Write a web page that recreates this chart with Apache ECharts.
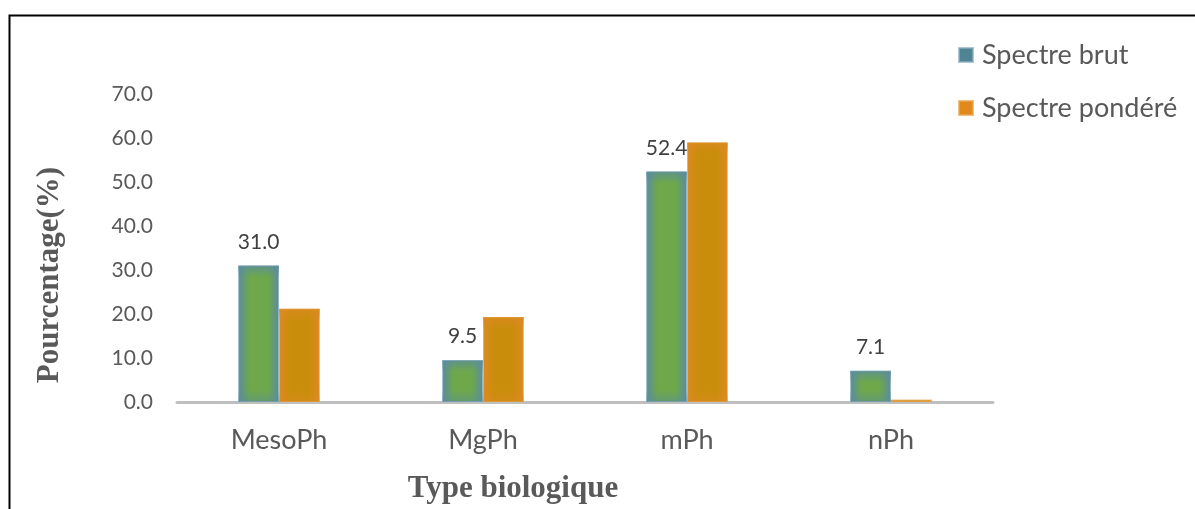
<!DOCTYPE html>
<html>
<head>
<meta charset="utf-8">
<script src="https://cdn.jsdelivr.net/npm/echarts@6/dist/echarts.min.js"></script>
<style>
  html, body { margin: 0; padding: 0; background: #ffffff; }
  #chart { width: 1195px; height: 509px; }
</style>
</head>
<body>
<div id="chart"></div>
<script>
// Biological types and their share in the raw and weighted spectra (%)
const categories = ['MesoPh', 'MgPh', 'mPh', 'nPh'];
const spectreBrut = [31.0, 9.5, 52.4, 7.1];
const spectrePondere = [21.2, 19.3, 59.0, 0.5];
const yTicks = { min: 0, max: 70, interval: 10 };

const seriesNames = ['Spectre brut', 'Spectre pondéré'];
const BAR_FRACTION = 0.2; // each bar takes 20% of a category band

const greenFill = new echarts.graphic.LinearGradient(0, 0, 1, 0, [
  { offset: 0, color: '#5a8c9e' },
  { offset: 0.28, color: '#6ea84a' },
  { offset: 0.72, color: '#6ea84a' },
  { offset: 1, color: '#5a8c9e' }
]);
const orangeFill = new echarts.graphic.LinearGradient(0, 0, 1, 0, [
  { offset: 0, color: '#dc8a22' },
  { offset: 0.28, color: '#c98d0b' },
  { offset: 0.72, color: '#c98d0b' },
  { offset: 1, color: '#dc8a22' }
]);

// Soft top/bottom edge shading laid over each bar
function edgeShade(rgb, side) {
  return function (params, api) {
    const cat = api.value(0);
    const val = api.value(1);
    const top = api.coord([cat, val]);
    const base = api.coord([cat, 0]);
    const band = api.size([1, 0])[0];
    const w = band * BAR_FRACTION;
    const x = side < 0 ? top[0] - w : top[0];
    const h = base[1] - top[1];
    if (h <= 2) return null;
    const f = Math.min(0.5, 12 / h);
    return {
      type: 'rect',
      shape: { x: x, y: top[1], width: w, height: h },
      style: {
        fill: new echarts.graphic.LinearGradient(0, 0, 0, 1, [
          { offset: 0, color: 'rgba(' + rgb + ',0.75)' },
          { offset: f, color: 'rgba(' + rgb + ',0)' },
          { offset: 1 - f, color: 'rgba(' + rgb + ',0)' },
          { offset: 1, color: 'rgba(' + rgb + ',0.5)' }
        ])
      },
      silent: true
    };
  };
}

const chart = echarts.init(document.getElementById('chart'), null, { renderer: 'canvas' });

chart.setOption({
  animation: false,
  backgroundColor: '#ffffff',
  graphic: [{
    type: 'rect',
    left: 7, top: 13,
    shape: { width: 1300, height: 600 },
    style: { fill: 'none', stroke: '#000000', lineWidth: 2 },
    z: 100
  }],
  grid: { left: 177, right: 202, top: 94, bottom: 106 },
  legend: {
    orient: 'vertical',
    left: 958, top: 40,
    padding: 0,
    itemWidth: 14, itemHeight: 14, itemGap: 23,
    icon: 'rect',
    textStyle: { fontFamily: 'Lato', fontSize: 27, color: '#595959', lineHeight: 30, padding: [0, 0, 0, 4] },
    data: [
      { name: seriesNames[0], itemStyle: { color: '#4f8593' } },
      { name: seriesNames[1], itemStyle: { color: '#e0891d' } }
    ]
  },
  xAxis: {
    type: 'category',
    data: categories,
    name: 'Type biologique',
    nameLocation: 'middle',
    nameGap: 71,
    nameTextStyle: {
      fontFamily: 'Liberation Serif', fontWeight: 'bold', fontSize: 31, color: '#595959',
      padding: [0, 144, 0, 0]
    },
    axisLine: { lineStyle: { color: '#bfbfbf', width: 3 } },
    axisTick: { show: false },
    axisLabel: { fontFamily: 'Lato', fontSize: 27, color: '#595959', margin: 25 }
  },
  yAxis: {
    type: 'value',
    min: yTicks.min, max: yTicks.max, interval: yTicks.interval,
    name: 'Pourcentage(%)',
    nameLocation: 'middle',
    nameRotate: 90,
    nameGap: 112,
    nameTextStyle: {
      fontFamily: 'Liberation Serif', fontWeight: 'bold', fontSize: 31, color: '#595959',
      padding: [0, 54, 0, 0]
    },
    axisLine: { show: false },
    axisTick: { show: false },
    splitLine: { show: false },
    axisLabel: {
      fontFamily: 'Lato', fontSize: 21, color: '#595959', margin: 24,
      formatter: v => v.toFixed(1)
    }
  },
  series: [
    {
      name: seriesNames[0],
      type: 'bar',
      data: spectreBrut,
      barWidth: (BAR_FRACTION * 100) + '%',
      barGap: '0%',
      itemStyle: { color: greenFill, borderColor: 'rgba(140,175,195,0.7)', borderWidth: 1 },
      label: {
        show: true, position: 'top', distance: 13,
        fontFamily: 'Lato', fontSize: 21, color: '#404040',
        formatter: p => p.value.toFixed(1)
      }
    },
    {
      name: seriesNames[1],
      type: 'bar',
      data: spectrePondere,
      barWidth: (BAR_FRACTION * 100) + '%',
      barGap: '0%',
      itemStyle: { color: orangeFill, borderColor: 'rgba(235,165,80,0.7)', borderWidth: 1 }
    },
    {
      name: 'edge-brut',
      type: 'custom',
      renderItem: edgeShade('90,140,158', -1),
      data: spectreBrut.map((v, i) => [i, v]),
      z: 3
    },
    {
      name: 'edge-pondere',
      type: 'custom',
      renderItem: edgeShade('220,138,34', 1),
      data: spectrePondere.map((v, i) => [i, v]),
      z: 3
    }
  ]
});
</script>
</body>
</html>
